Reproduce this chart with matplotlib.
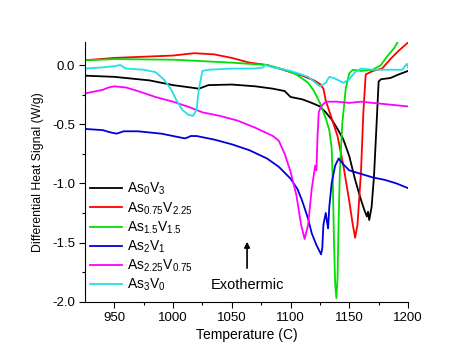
import numpy as np
import matplotlib.pyplot as plt
from matplotlib.ticker import MultipleLocator

plt.rcParams['font.family'] = ['Liberation Sans', 'DejaVu Sans']

# As0V3
t_black = [925, 950, 980, 1000, 1015, 1022, 1030, 1050, 1070, 1085, 1095, 1100, 1110, 1118, 1125,
           1130, 1135, 1140, 1145, 1150, 1155, 1160, 1163, 1165, 1166, 1167, 1169, 1171, 1173,
           1175, 1177, 1185, 1192, 1200]
y_black = [-0.09, -0.10, -0.13, -0.17, -0.19, -0.20, -0.17, -0.165, -0.18, -0.20, -0.22, -0.27,
           -0.29, -0.32, -0.35, -0.40, -0.46, -0.54, -0.63, -0.77, -0.97, -1.14, -1.23, -1.28,
           -1.24, -1.31, -1.20, -0.95, -0.55, -0.14, -0.12, -0.11, -0.08, -0.05]

# As0.75V2.25
t_red = [925, 950, 1000, 1018, 1035, 1050, 1065, 1080, 1090, 1100, 1110, 1120, 1125, 1128, 1130,
         1135, 1140, 1145, 1150, 1153, 1155, 1157, 1160, 1162, 1164, 1170, 1178, 1185, 1192, 1200]
y_red = [0.04, 0.06, 0.08, 0.10, 0.09, 0.06, 0.02, 0.0, -0.03, -0.06, -0.09, -0.13, -0.16, -0.20,
         -0.30, -0.45, -0.60, -0.85, -1.15, -1.35, -1.46, -1.35, -0.90, -0.40, -0.08, -0.05,
         -0.03, 0.05, 0.12, 0.19]

# As1.5V1.5
t_green = [925, 950, 1000, 1050, 1080, 1095, 1105, 1115, 1120, 1125, 1130, 1133, 1135, 1136,
           1137, 1138, 1139, 1140, 1141, 1142, 1144, 1147, 1150, 1153, 1160, 1170, 1177, 1182,
           1188, 1191]
y_green = [0.04, 0.05, 0.045, 0.02, 0.0, -0.04, -0.08, -0.15, -0.22, -0.32, -0.45, -0.55, -0.70,
           -1.00, -1.50, -1.85, -1.97, -1.80, -1.30, -0.90, -0.50, -0.20, -0.07, -0.04, -0.05,
           -0.04, 0.0, 0.07, 0.14, 0.19]

# As2V1
t_blue = [925, 940, 947, 952, 958, 970, 990, 1010, 1013, 1015, 1020, 1035, 1050, 1065, 1080,
          1090, 1100, 1106, 1110, 1115, 1118, 1122, 1126, 1127, 1128, 1130, 1131, 1132, 1133,
          1135, 1138, 1141, 1145, 1150, 1160, 1170, 1180, 1190, 1200]
y_blue = [-0.54, -0.55, -0.57, -0.58, -0.56, -0.56, -0.58, -0.62, -0.61, -0.60, -0.60, -0.63,
          -0.67, -0.72, -0.79, -0.86, -0.96, -1.05, -1.15, -1.30, -1.42, -1.52, -1.60, -1.55,
          -1.35, -1.25, -1.32, -1.38, -1.20, -1.00, -0.85, -0.79, -0.84, -0.89, -0.92, -0.95,
          -0.97, -1.00, -1.04]

# As2.25V0.75
t_mag = [925, 935, 940, 945, 950, 960, 970, 985, 1000, 1015, 1025, 1040, 1055, 1070, 1085, 1090,
         1095, 1100, 1105, 1109, 1112, 1115, 1118, 1121, 1122, 1123, 1124, 1126, 1130, 1140,
         1150, 1160, 1170, 1180, 1190, 1200]
y_mag = [-0.24, -0.22, -0.21, -0.19, -0.18, -0.19, -0.22, -0.27, -0.31, -0.36, -0.40, -0.43,
         -0.47, -0.53, -0.60, -0.64, -0.75, -0.90, -1.10, -1.35, -1.47, -1.35, -1.05, -0.85,
         -0.89, -0.60, -0.40, -0.35, -0.31, -0.31, -0.32, -0.31, -0.32, -0.33, -0.34, -0.35]

# As3V0
t_cyan = [925, 940, 950, 955, 960, 975, 985, 992, 998, 1003, 1008, 1013, 1017, 1020, 1022, 1025,
          1030, 1050, 1070, 1077, 1078, 1085, 1100, 1115, 1125, 1130, 1133, 1137, 1145, 1150,
          1155, 1160, 1170, 1185, 1195, 1199, 1200]
y_cyan = [-0.03, -0.02, -0.01, 0.0, -0.03, -0.04, -0.06, -0.12, -0.20, -0.30, -0.38, -0.42,
          -0.43, -0.38, -0.20, -0.05, -0.04, -0.03, -0.03, -0.02, 0.0, -0.02, -0.05, -0.10,
          -0.18, -0.15, -0.10, -0.11, -0.15, -0.12, -0.06, -0.03, -0.04, -0.04, -0.04, 0.01,
          -0.02]

series = [
    (t_black, y_black, 'black', r'As$_0$V$_3$'),
    (t_red, y_red, '#ff0000', r'As$_{0.75}$V$_{2.25}$'),
    (t_green, y_green, '#00e000', r'As$_{1.5}$V$_{1.5}$'),
    (t_blue, y_blue, '#0000dd', r'As$_2$V$_1$'),
    (t_mag, y_mag, '#ff00ff', r'As$_{2.25}$V$_{0.75}$'),
    (t_cyan, y_cyan, '#22e0e8', r'As$_3$V$_0$'),
]

plt.rcParams['mathtext.fontset'] = 'custom'
plt.rcParams['mathtext.rm'] = 'Liberation Sans'
plt.rcParams['mathtext.it'] = 'Liberation Sans'
plt.rcParams['mathtext.default'] = 'regular'

fig = plt.figure(figsize=(4.74, 3.62), dpi=100)
ax = fig.add_axes([85.3 / 474, 1 - 301.7 / 362, (408 - 85.3) / 474, (301.7 - 41.7) / 362])

for t, y, c, lab in series:
    ax.plot(t, y, color=c, linewidth=1.3, label=lab)

ax.set_xlim(925.3, 1200)
ax.set_ylim(-2.0, 0.197)
ax.xaxis.set_major_locator(MultipleLocator(50))
ax.xaxis.set_minor_locator(MultipleLocator(25))
ax.yaxis.set_major_locator(MultipleLocator(0.5))
ax.yaxis.set_minor_locator(MultipleLocator(0.25))
ax.set_yticklabels([f'{v:.1f}' for v in ax.get_yticks()])
ax.tick_params(which='major', direction='out', length=4, width=0.8, labelsize=9.5)
ax.tick_params(which='minor', direction='out', length=2.5, width=0.8)
ax.spines['top'].set_visible(False)
ax.spines['right'].set_visible(False)
ax.set_xlabel('Temperature (C)', fontsize=10, labelpad=3)
ax.set_ylabel('Differential Heat Signal (W/g)', fontsize=8.8, labelpad=6)

ax.annotate('', xy=(1063, -1.47), xytext=(1063, -1.74),
            arrowprops=dict(arrowstyle='-|>', color='black', lw=1.2, mutation_scale=8))
ax.text(1063, -1.86, 'Exothermic', ha='center', va='center', fontsize=10.5)

ax.legend(loc='lower left', frameon=False, fontsize=10, handlelength=2.3,
          handletextpad=0.3, labelspacing=0.2, borderaxespad=0.2,
          bbox_to_anchor=(-0.01, 0.0))

plt.savefig('out.png', dpi=100)
